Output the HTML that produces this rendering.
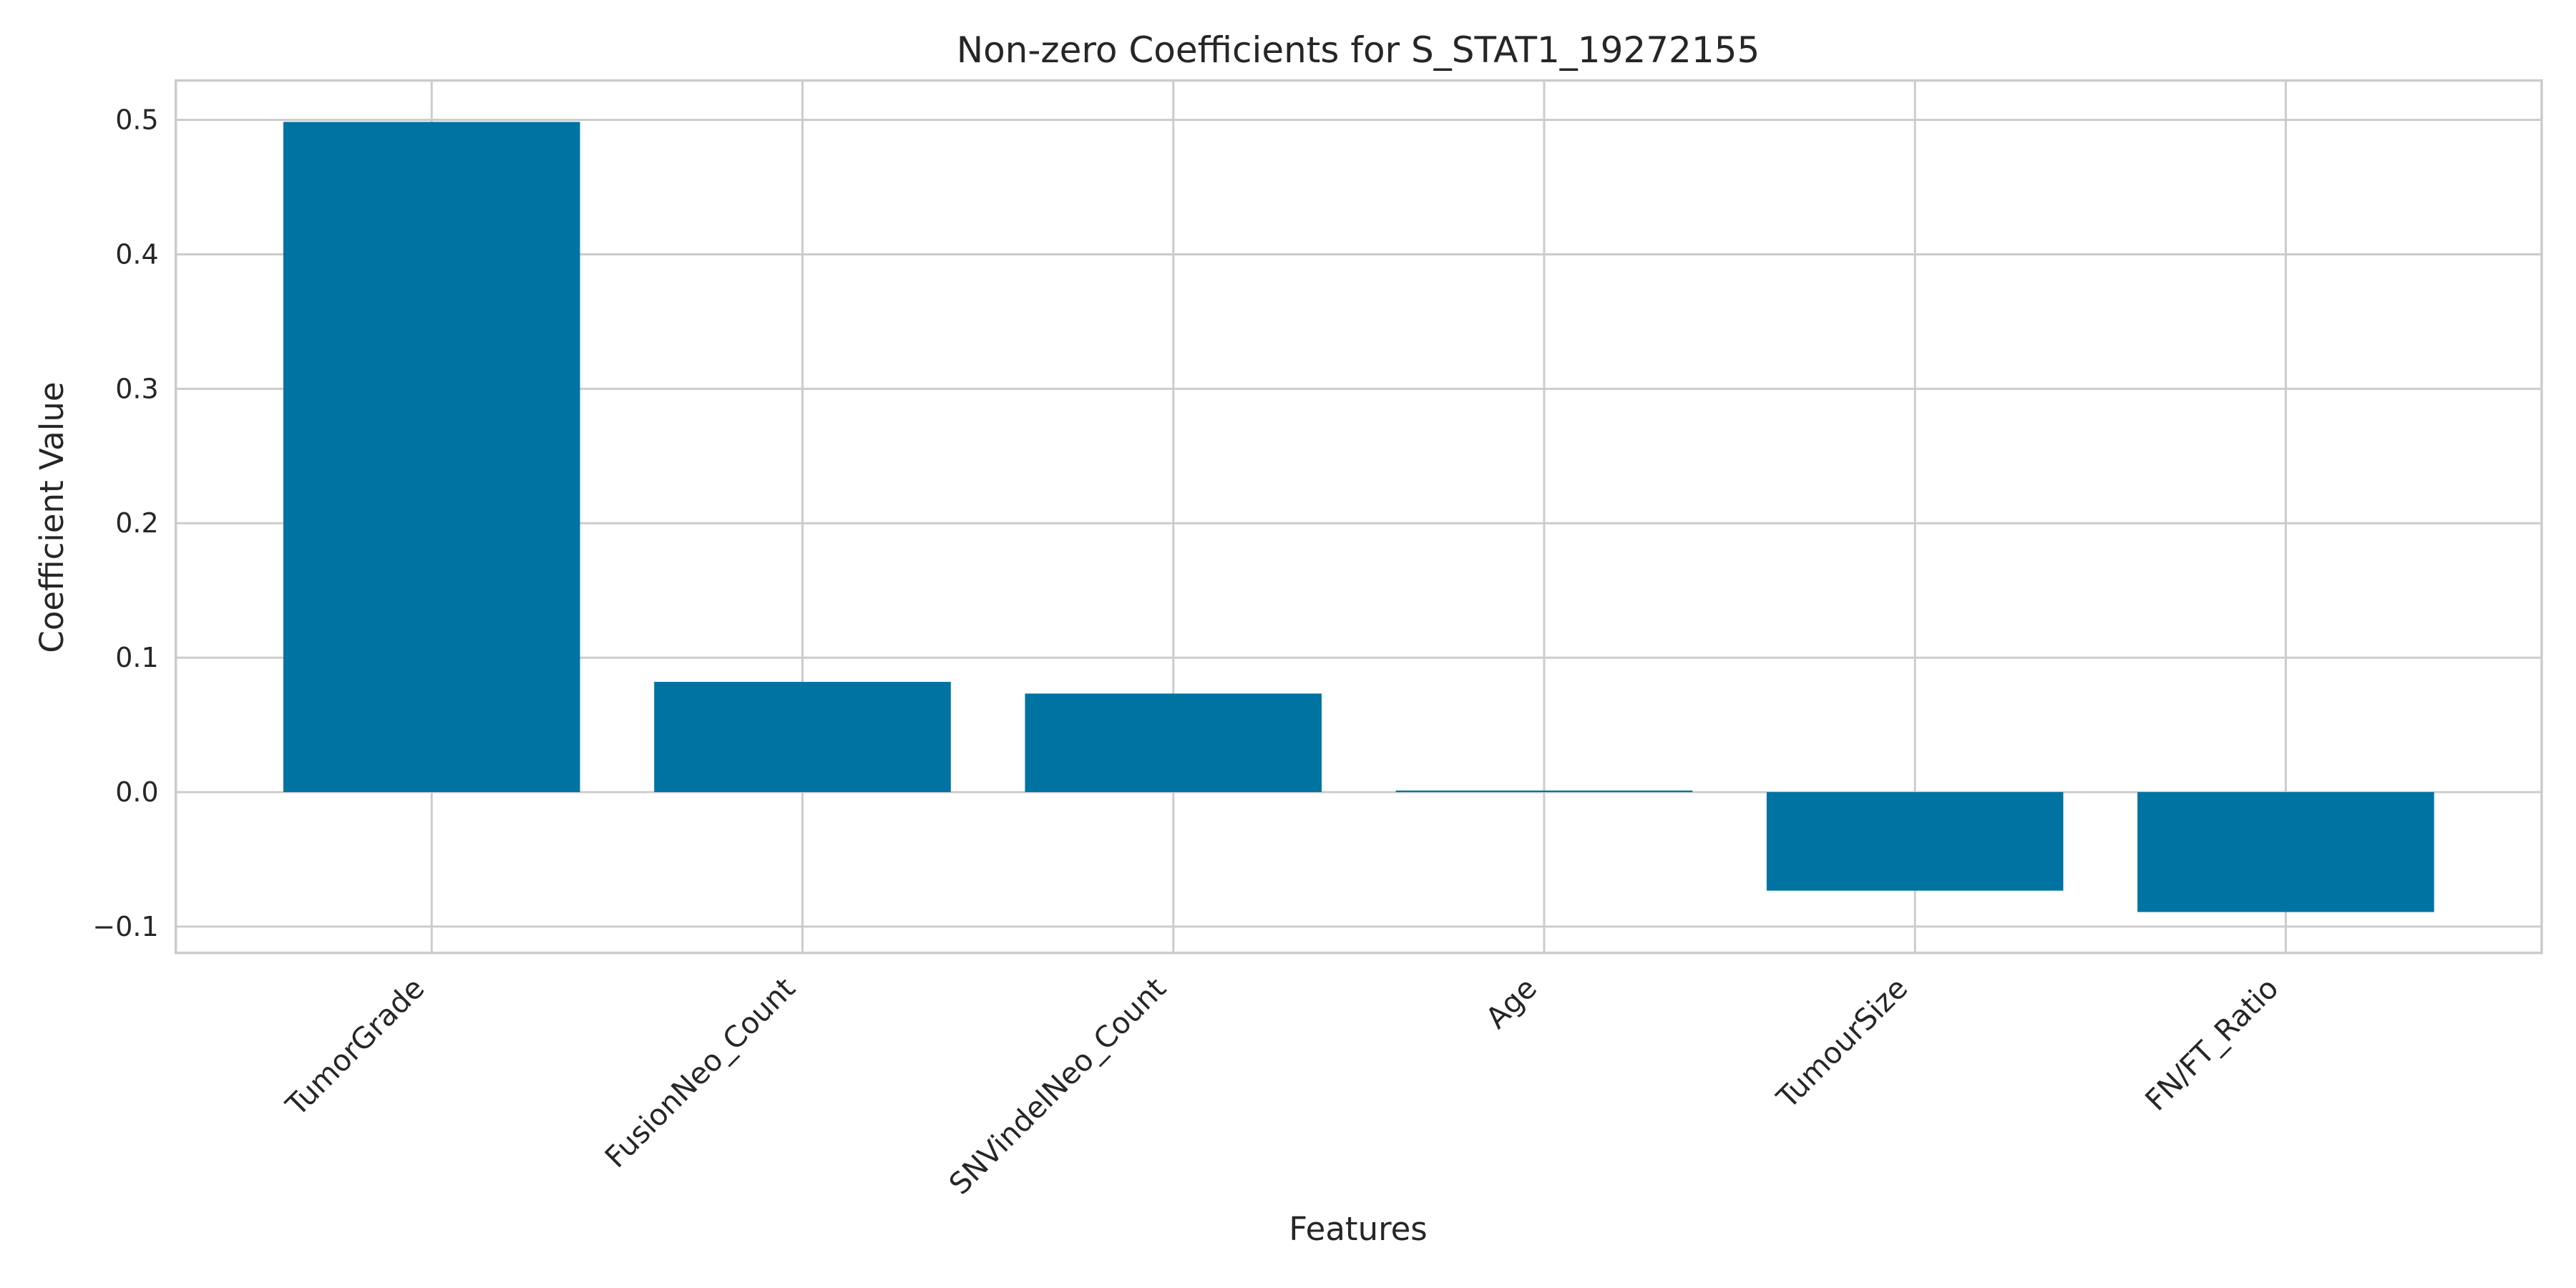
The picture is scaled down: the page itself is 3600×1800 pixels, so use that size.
<!DOCTYPE html>
<html><head><meta charset="utf-8"><style>
html,body{margin:0;padding:0;background:#fff}
svg{display:block;font-family:"DejaVu Sans","Liberation Sans",sans-serif;fill:#262626}
</style></head><body>
<svg id="chart" width="3600" height="1800" viewBox="0 0 3600 1800" xmlns="http://www.w3.org/2000/svg">
<rect width="3600" height="1800" fill="#fff"/>
<g id="grid"></g>
<g id="bars"></g>
<rect x="245.7" y="112.5" width="3306.3" height="1219.2" fill="none" stroke="#cccccc" stroke-width="3.5"/>
<g id="yticks"></g>
<g id="xticks"></g>
<text x="1898" y="87" font-size="50" text-anchor="middle">Non-zero Coefficients for S_STAT1_19272155</text>
<text x="1898" y="1733" font-size="45" text-anchor="middle">Features</text>
<text x="0" y="0" font-size="45" text-anchor="middle" transform="translate(88,723) rotate(-90)">Coefficient Value</text>
</svg>
<script>
const categories = ["TumorGrade","FusionNeo_Count","SNVindelNeo_Count","Age","TumourSize","FN/FT_Ratio"];
const values = [0.4985, 0.0820, 0.0733, 0.0012, -0.0733, -0.0892];
const yTickValues = [-0.1, 0.0, 0.1, 0.2, 0.3, 0.4, 0.5];
const yTickLabels = ["\u22120.1","0.0","0.1","0.2","0.3","0.4","0.5"];

const L=245.7,R=3552,T=112.5,B=1331.7;
const xMin=-0.69,xMax=categories.length-1+0.69;
const yMin=-0.1196,yMax=0.5293;
const NS="http://www.w3.org/2000/svg";
function xs(v){return L+(v-xMin)/(xMax-xMin)*(R-L);}
function ys(v){return B-(v-yMin)/(yMax-yMin)*(B-T);}
function mk(tag,attrs,parent){const e=document.createElementNS(NS,tag);for(const k in attrs)e.setAttribute(k,attrs[k]);parent.appendChild(e);return e;}
const grid=document.getElementById('grid'),bars=document.getElementById('bars'),yt=document.getElementById('yticks'),xt=document.getElementById('xticks');
yTickValues.forEach((v,i)=>{
  const y=ys(v);
  const g=mk('line',{x1:L,x2:R,y1:y,y2:y,stroke:'#cccccc','stroke-width':3},grid);
  
  
  const t=mk('text',{x:L-24,y:y+13,'font-size':38,'text-anchor':'end'},yt);
  t.textContent=yTickLabels[i];
  
  
});
categories.forEach((c,i)=>{
  const x=xs(i);
  const g=mk('line',{x1:x,x2:x,y1:T,y2:B,stroke:'#cccccc','stroke-width':3},grid);
  
  
  const x0=xs(i-0.4),x1=xs(i+0.4),y0=ys(0),yv=ys(values[i]);
  const r=mk('rect',{x:x0,width:x1-x0,y:Math.min(y0,yv),height:Math.max(Math.abs(yv-y0),1.5),fill:'#0173a2'},bars);
  
  
  const t=mk('text',{x:0,y:0,'font-size':41,'text-anchor':'end',transform:`translate(${x-8},${B+52}) rotate(-45)`},xt);
  t.textContent=c;
  
  
});
</script>
</body></html>
